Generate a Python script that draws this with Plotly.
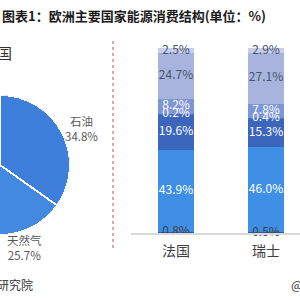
import plotly.graph_objects as go

# ---------------- data ----------------
pie_labels = ["石油", "天然气"]
pie_values = [34.8, 25.7]
pie_colors = ["#3d7fdb", "#4389e0"]

countries = ["法国", "瑞士"]
segment_names = ["煤炭", "核能", "水电", "其他", "可再生能源", "天然气", "石油"]
france = [0.8, 43.9, 19.6, 0.2, 8.2, 24.7, 2.5]
switzerland = [0.5, 46.0, 15.3, 0.4, 7.8, 27.1, 2.9]
seg_colors = ["#2e5aa8", "#3f8fe6", "#3c66bc", "#4a6fc8", "#7d96d6", "#a9b4de", "#c9cee9"]
seg_text_colors = ["#404040", "white", "white", "white", "white", "#44546a", "#44546a"]

W, H = 300, 300
def px(x):
    return x / W
def py(y):
    return 1 - y / H

fig = go.Figure()

# ---------------- pie (half visible) via barpolar ----------------
cum = 0
thetas, widths = [], []
for v in pie_values:
    thetas.append((cum + v / 2) * 3.6)
    widths.append(v * 3.6)
    cum += v
fig.add_trace(go.Barpolar(
    r=[1] * len(pie_values), theta=thetas, width=widths,
    marker=dict(color=pie_colors, line=dict(color="white", width=2)),
    hoverinfo="skip", showlegend=False, subplot="polar"))

# ---------------- stacked bars ----------------
data_by_country = [france, switzerland]
for i, name in enumerate(segment_names):
    fig.add_trace(go.Bar(
        x=countries, y=[d[i] for d in data_by_country], name=name,
        marker=dict(color=seg_colors[i], line=dict(width=0)),
        width=0.4, hoverinfo="skip", showlegend=False))

# labels at segment midpoints
lx, ly, lt, lc = [], [], [], []
for c, d in zip(countries, data_by_country):
    base = 0
    for i, v in enumerate(d):
        lx.append(c)
        ly.append(base + v / 2)
        lt.append(f"{v:.1f}%")
        lc.append(seg_text_colors[i])
        base += v
fig.add_trace(go.Scatter(
    x=lx, y=ly, text=lt, mode="text",
    textfont=dict(color=lc, size=12, family="Noto Sans CJK SC"),
    cliponaxis=False, hoverinfo="skip", showlegend=False))

fig.update_layout(
    width=W, height=H,
    margin=dict(l=0, r=0, t=0, b=0),
    paper_bgcolor="white", plot_bgcolor="white",
    barmode="stack", bargap=0.6,
    font=dict(family="Noto Sans CJK SC", color="#333333"),
    polar=dict(
        domain=dict(x=[0, px(70)], y=[py(235), py(95)]),
        sector=[-90, 90],
        bgcolor="rgba(0,0,0,0)",
        radialaxis=dict(visible=False, range=[0, 1]),
        angularaxis=dict(visible=False, direction="clockwise", rotation=90),
        hole=0),
    xaxis=dict(domain=[px(131), 1], range=[-0.5, -0.5 + 169 / 90],
               showline=True, linecolor="#d9d9d9", linewidth=2,
               showgrid=False, zeroline=False, ticks="",
               ticklabelstandoff=4,
               tickfont=dict(size=14, color="#404040")),
    yaxis=dict(domain=[py(233), 1], range=[0, 233 / 1.85], visible=False,
               showgrid=False, zeroline=False),
)

# pie labels
pie_label_pos = [(81, 128), (24, 247)]
for lab, v, (x, y) in zip(pie_labels, pie_values, pie_label_pos):
    fig.add_annotation(x=px(x), y=py(y), xref="paper", yref="paper",
                       xanchor="center", yanchor="middle",
                       text=f"{lab}<br>{v:.1f}%", showarrow=False,
                       font=dict(size=11.5, color="#595959"), align="center")

# title and other texts
fig.add_annotation(x=0, y=py(15), xref="paper", yref="paper",
                   xanchor="left", yanchor="middle",
                   text="<b>图表1：欧洲主要国家能源消费结构(单位：%)</b>", showarrow=False,
                   font=dict(size=13, color="#1a1a1a"))
fig.add_annotation(x=px(14), y=py(52), xref="paper", yref="paper",
                   xanchor="right", yanchor="middle",
                   text="德国", showarrow=False, font=dict(size=15, color="#333333"))
fig.add_annotation(x=px(35), y=py(284), xref="paper", yref="paper",
                   xanchor="right", yanchor="middle",
                   text="资料来源：前瞻产业研究院", showarrow=False,
                   font=dict(size=12, color="#333333"))
fig.add_annotation(x=px(289), y=py(284), xref="paper", yref="paper",
                   xanchor="left", yanchor="middle",
                   text="@前瞻经济学人APP", showarrow=False,
                   font=dict(size=12, color="#333333"))

# red dashed divider
fig.add_shape(type="line", xref="paper", yref="paper",
              x0=px(113), x1=px(113), y0=py(248), y1=py(38),
              line=dict(color="#c0504d", width=1, dash="dot"))

fig.write_html("out.html")
